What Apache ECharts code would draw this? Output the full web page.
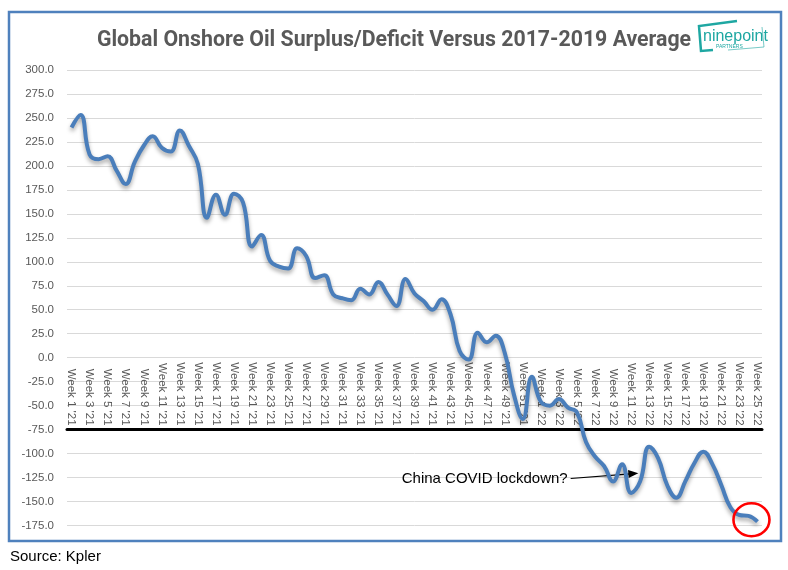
<!DOCTYPE html>
<html>
<head>
<meta charset="utf-8">
<script src="https://cdn.jsdelivr.net/npm/echarts@6/dist/echarts.min.js"></script>
<style>
  html, body { margin: 0; padding: 0; background: #fff; }
  #main { width: 788px; height: 570px; }
</style>
</head>
<body>
<div id="main"></div>
<script>
// weeks: 52 of 2021, then 25 of 2022
var weeks = [];
for (var w = 1; w <= 52; w++) weeks.push('Week ' + w + " '21");
for (var w2 = 1; w2 <= 25; w2++) weeks.push('Week ' + w2 + " '22");

// surplus / deficit vs 2017-2019 average
var surplus2021 = [
    240, 253, 212, 207, 210, 195, 181, 204, 221, 231,
    219, 215, 237, 221, 202, 146, 170, 149, 171, 162,
    116, 128, 101, 95, 93, 114, 106, 83, 86, 66,
    62, 60, 72, 66, 79, 66, 54, 82, 67, 59,
    50, 61, 45, 7, -2, 26, 16, 23, 5, -38,
    -64, -20
];
var surplus2022 = [
    -46, -50, -43, -52, -57, -88, -103, -113, -129, -111,
    -141, -129, -93, -105, -133, -146, -129, -110, -98, -111,
    -133, -156, -164, -165, -171
];
var surplus = surplus2021.concat(surplus2022);

var yMin = -175, yMax = 300, yStep = 25;
var axisCross = -75;   // category axis sits at this value

var gridTop = 70, gridBottom = 44.5;
var gridHeight = 570 - gridTop - gridBottom;
// x axis placed at the top, then pushed down to the crossing value
var axisOffset = -(yMax - axisCross) / (yMax - yMin) * gridHeight;

var grey = '#595959';

var chart = echarts.init(document.getElementById('main'));

var option = {
    backgroundColor: '#fff',
    animation: false,
    title: {
        text: 'Global Onshore Oil Surplus/Deficit Versus 2017-2019 Average',
        left: 'center',
        top: 25,
        textStyle: {
            fontFamily: '"Liberation Sans Narrow", "Roboto", sans-serif',
            fontWeight: 'bold',
            fontSize: 21.3,
            color: grey
        }
    },
    grid: {
        left: 67,
        right: 26,
        top: gridTop,
        bottom: gridBottom
    },
    xAxis: {
        type: 'category',
        data: weeks,
        boundaryGap: true,
        position: 'top',
        offset: axisOffset,
        axisLine: { onZero: false, lineStyle: { color: '#000', width: 3 } },
        axisTick: { show: false },
        axisLabel: {
            rotate: 90,
            interval: 1,
            margin: 4,
            hideOverlap: false,
            fontFamily: '"Liberation Sans", Arial, sans-serif',
            fontSize: 11.5,
            color: grey
        },
        splitLine: { show: false }
    },
    yAxis: {
        type: 'value',
        min: yMin,
        max: yMax,
        interval: yStep,
        axisLine: { show: false },
        axisTick: { show: false },
        axisLabel: {
            margin: 13,
            fontFamily: '"Liberation Sans", Arial, sans-serif',
            fontSize: 11.5,
            color: grey,
            formatter: function(v) { return v.toFixed(1); }
        },
        splitLine: { lineStyle: { color: '#d9d9d9', width: 1 } }
    },
    series: [{
        type: 'line',
        data: surplus,
        smooth: 0.45,
        symbol: 'none',
        lineStyle: {
            color: '#4a7ebb',
            width: 4,
            shadowColor: 'rgba(0,0,0,0.35)',
            shadowBlur: 4,
            shadowOffsetY: 3
        },
        markPoint: {
            symbol: 'circle',
            symbolSize: [36, 33],
            symbolOffset: [3, 0],
            silent: true,
            label: { show: false },
            itemStyle: { color: 'rgba(0,0,0,0)', borderColor: '#ff0000', borderWidth: 2.5 },
            data: [{ coord: [75, -169] }]
        }
    }]
};
chart.setOption(option);

// annotation arrow + logo + frame, placed after the grid exists
var pA = chart.convertToPixel({ gridIndex: 0 }, [0, 0]);
var pB = chart.convertToPixel({ gridIndex: 0 }, [76, 0]);
function px(i, v) {
    var step = (pB[0] - pA[0]) / 76;
    var y = chart.convertToPixel({ gridIndex: 0 }, [0, v])[1];
    return [pA[0] + step * i, y];
}
var a0 = px(55.3, -126);
var a1 = px(62.8, -120.5);
var ang = Math.atan2(a1[1] - a0[1], a1[0] - a0[0]);
var hl = 10, hw = 4;
var head = [
    a1,
    [a1[0] - hl * Math.cos(ang) + hw * Math.sin(ang), a1[1] - hl * Math.sin(ang) - hw * Math.cos(ang)],
    [a1[0] - hl * Math.cos(ang) - hw * Math.sin(ang), a1[1] - hl * Math.sin(ang) + hw * Math.cos(ang)]
];
var teal = '#1ea7a2';

chart.setOption({
    graphic: [
        {
            type: 'rect',
            shape: { x: 9, y: 12, width: 772, height: 529 },
            style: { fill: null, stroke: '#4f81bd', lineWidth: 2.5 },
            silent: true
        },
        {
            type: 'text',
            x: a0[0] - 3,
            y: a0[1],
            style: {
                text: 'China COVID lockdown?',
                fill: '#000',
                font: '15px "Liberation Sans", Arial, sans-serif',
                align: 'right',
                verticalAlign: 'middle'
            }
        },
        {
            type: 'line',
            shape: { x1: a0[0], y1: a0[1], x2: a1[0] - 8 * Math.cos(ang), y2: a1[1] - 8 * Math.sin(ang) },
            style: { stroke: '#000', lineWidth: 1.2 }
        },
        {
            type: 'polygon',
            shape: { points: head },
            style: { fill: '#000' }
        },
        {
            type: 'polyline',
            shape: { points: [[737, 21], [699, 26], [701, 51], [713, 50]] },
            style: { stroke: teal, lineWidth: 2.5, fill: null }
        },
        {
            type: 'polyline',
            shape: { points: [[728, 50], [764, 47], [762, 27]] },
            style: { stroke: teal, lineWidth: 1, fill: null, opacity: 0.6 }
        },
        {
            type: 'text',
            x: 703,
            y: 37,
            style: {
                text: 'ninepoint',
                fill: teal,
                font: '16px "Liberation Sans Narrow", "Liberation Sans", sans-serif',
                verticalAlign: 'middle'
            }
        },
        {
            type: 'text',
            x: 716,
            y: 47,
            style: {
                text: 'PARTNERS',
                fill: teal,
                font: '5px "Liberation Sans", sans-serif',
                verticalAlign: 'middle'
            }
        },
        {
            type: 'text',
            x: 10,
            y: 557,
            style: {
                text: 'Source: Kpler',
                fill: '#000',
                font: '15px "Liberation Sans", Arial, sans-serif',
                verticalAlign: 'middle'
            }
        }
    ]
});
</script>
</body>
</html>
